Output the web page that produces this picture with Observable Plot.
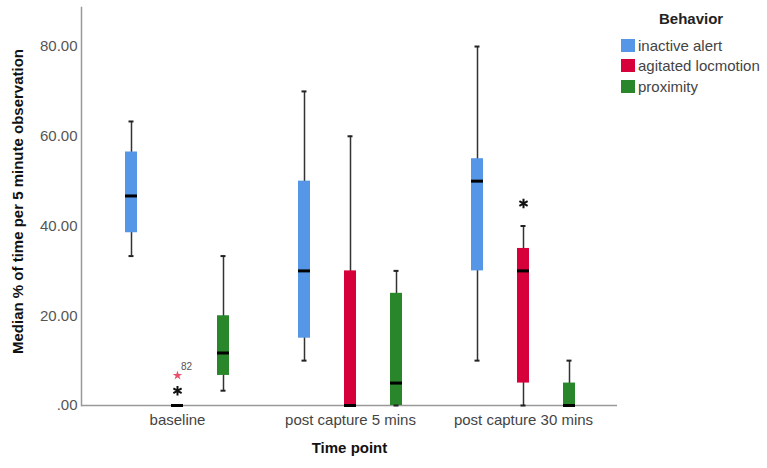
<!DOCTYPE html>
<html>
<head>
<meta charset="utf-8">
<script src="https://cdn.jsdelivr.net/npm/d3@7"></script>
<script src="https://cdn.jsdelivr.net/npm/@observablehq/plot@0.6"></script>
<style>
  html, body { margin: 0; padding: 0; background: #fff; }
  #wrap { position: relative; width: 767px; height: 468px; font-family: "Liberation Sans", Arial, sans-serif; }
  #legend { position: absolute; left: 621px; top: 10px; font-size: 15px; color: #444; }
  #legend .title { font-weight: bold; color: #222; margin-left: 38px; margin-bottom: 8px; }
  #legend .item { display: flex; align-items: center; height: 20.5px; }
  #legend .sw { width: 14px; height: 13px; margin-right: 3px; }
</style>
</head>
<body>
<div id="wrap"></div>
<script>
const timePoints = ["baseline", "post capture 5 mins", "post capture 30 mins"];
const behaviors = ["inactive alert", "agitated locmotion", "proximity"];
const behaviorColors = ["#5597E6", "#D6003A", "#2A862A"];
// [min, q1, median, q3, max] per time point
const inactiveAlert = [[33.3, 38.5, 46.7, 56.5, 63.3], [10, 15, 30, 50, 70], [10, 30, 50, 55, 80]];
const agitatedLocomotion = [[0, 0, 0, 0, 0], [0, 0, 0, 30, 60], [0, 5, 30, 35, 40]];
const proximity = [[3.3, 6.7, 11.7, 20, 33.3], [0, 0, 5, 25, 30], [0, 0, 0, 5, 10]];
const outlierTime = ["baseline", "post capture 30 mins", "baseline"];
const outlierBehavior = ["agitated locmotion", "agitated locmotion", "agitated locmotion"];
const outlierValue = [3.3, 45, 6.7];
const outlierKind = ["extreme", "extreme", "outlier"];
const outlierLabel = ["", "", "82"];
const yTicks = [0, 20, 40, 60, 80];

const stats = [inactiveAlert, agitatedLocomotion, proximity];
const offsets = [-46, 0, 46];

const marks = [];
marks.push(Plot.ruleY([0], {stroke: "#999", strokeWidth: 1.5}));
marks.push(Plot.frame({anchor: "left", stroke: "#999", strokeWidth: 1.5}));

behaviors.forEach((b, i) => {
  const rows = timePoints.map((t, j) => {
    const s = stats[i][j];
    return {time: t, behavior: b, min: s[0], q1: s[1], med: s[2], q3: s[3], max: s[4]};
  });
  const dx = offsets[i];
  marks.push(Plot.ruleX(rows, {x: "time", y1: "min", y2: "max", dx, stroke: "#333", strokeWidth: 1.5}));
  marks.push(Plot.barY(rows, {x: "time", y1: "q1", y2: "q3", dx, fill: behaviorColors[i]}));
  marks.push(Plot.tickY(rows, {x: "time", y: "max", dx, insetLeft: 3.5, insetRight: 3.5, stroke: "#222", strokeWidth: 2}));
  marks.push(Plot.tickY(rows, {x: "time", y: "min", dx, insetLeft: 3.5, insetRight: 3.5, stroke: "#222", strokeWidth: 2}));
  marks.push(Plot.tickY(rows, {x: "time", y: "med", dx, stroke: "#000", strokeWidth: 3}));

  const outs = outlierValue.map((v, k) => ({time: outlierTime[k], behavior: outlierBehavior[k], value: v, kind: outlierKind[k], label: outlierLabel[k]}))
    .filter(d => d.behavior === b);
  marks.push(Plot.dot(outs.filter(d => d.kind === "extreme"), {x: "time", y: "value", dx, symbol: "asterisk", r: 4.5, stroke: "#111", strokeWidth: 2}));
  marks.push(Plot.dot(outs.filter(d => d.kind === "outlier"), {x: "time", y: "value", dx, symbol: "star", r: 3, fill: "#E8506E", stroke: "none"}));
  marks.push(Plot.text(outs.filter(d => d.label), {x: "time", y: "value", text: "label", dx: dx + 9, dy: -9, fill: "#555", fontSize: 10}));
});

marks.push(Plot.axisY({ticks: yTicks, tickFormat: d => d === 0 ? ".00" : d.toFixed(2), tickSize: 0, tickPadding: 4, label: null, fill: "#555"}));
marks.push(Plot.axisX({tickSize: 0, tickPadding: 9, label: null, fill: "#444"}));
marks.push(Plot.text(["Median % of time per 5 minute observation"], {frameAnchor: "left", textAnchor: "middle", rotate: -90, dx: -63, dy: -5, fontWeight: "bold", fontSize: 15, fill: "#111"}));
marks.push(Plot.text(["Time point"], {frameAnchor: "bottom", dy: 47, fontWeight: "bold", fontSize: 15, fill: "#111"}));

const chart = Plot.plot({
  width: 767,
  height: 468,
  marginLeft: 81,
  marginRight: 150,
  marginTop: 7,
  marginBottom: 63,
  style: {fontFamily: "'Liberation Sans', Arial, sans-serif", fontSize: "15px", background: "#fff"},
  x: {domain: timePoints, paddingInner: 0.931, paddingOuter: 0.51, align: 0.508, axis: null},
  y: {domain: [0, 88.7], axis: null},
  marks
});

const wrap = document.getElementById("wrap");
wrap.appendChild(chart);
const legend = document.createElement("div");
legend.id = "legend";
legend.innerHTML = `<div class="title">Behavior</div>` +
  behaviors.map((b, i) => `<div class="item"><div class="sw" style="background:${behaviorColors[i]}"></div><span>${b}</span></div>`).join("");
wrap.appendChild(legend);
</script>
</body>
</html>
